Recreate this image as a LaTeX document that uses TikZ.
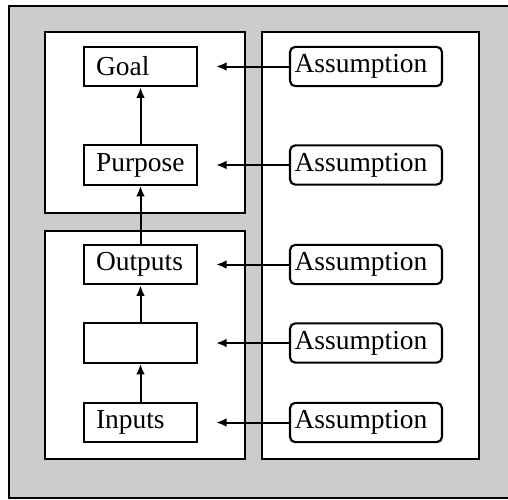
\documentclass[tikz,border=0pt]{standalone}
\usepackage{fontspec}
\setmainfont{Liberation Serif}
\usetikzlibrary{arrows.meta}
\definecolor{bggray}{HTML}{CCCCCC}
\begin{document}
\begin{tikzpicture}[x=0.75pt,y=-0.75pt,
  panel/.style={draw=black,line width=1.4pt,fill=white},
  lbox/.style={draw=black,line width=1.6pt,fill=white,rectangle,minimum width=84.75pt,minimum height=29.5pt,inner xsep=9pt,inner ysep=0pt,text width=66.75pt,align=left,font=\fontsize{20.6}{22}\selectfont},
  abox/.style={draw=black,line width=1.6pt,fill=white,rectangle,rounded corners=4pt,minimum width=114pt,minimum height=29.5pt,inner xsep=3.5pt,inner ysep=0pt,text width=107pt,align=left,font=\fontsize{20.6}{22}\selectfont},
  arr/.style={line width=1.5pt,-{Latex[length=8pt,width=6.5pt]}}]
\useasboundingbox (0,0) rectangle (508,500);
\fill[white] (0,0) rectangle (508,500);
\draw[fill=bggray,line width=1pt] (9,6) rectangle (512,498);
\draw[panel] (45,32) rectangle (245,213);
\draw[panel] (45,231) rectangle (245,459);
\draw[panel] (262,32) rectangle (479,459);
% left boxes
\node[lbox] (goal) at (140.5,66.5) {Goal};
\node[lbox] (purpose) at (140.5,165) {Purpose};
\node[lbox] (outputs) at (140.5,264.5) {Outputs};
\node[lbox] (activities) at (140.5,343) {};
\node[lbox] (inputs) at (140.5,422.5) {Inputs};
% assumptions
\node[abox] (a1) at (366,66.5) {Assumption};
\node[abox] (a2) at (366,165) {Assumption};
\node[abox] (a3) at (366,264.5) {Assumption};
\node[abox] (a4) at (366,343) {Assumption};
\node[abox] (a5) at (366,422.5) {Assumption};
% tip coordinates
\coordinate (t1) at (216,66.5);
\coordinate (t2) at (216,165);
\coordinate (t3) at (216,264.5);
\coordinate (t4) at (216,343);
\coordinate (t5) at (216,422.5);
\foreach \i in {1,...,5} {\draw[arr] (a\i.west) -- (t\i);}
\draw[arr] (purpose.north) -- (goal.south);
\draw[arr] (outputs.north) -- (purpose.south);
\draw[arr] (activities.north) -- (outputs.south);
\draw[arr] (inputs.north) -- (activities.south);
\end{tikzpicture}
\end{document}
